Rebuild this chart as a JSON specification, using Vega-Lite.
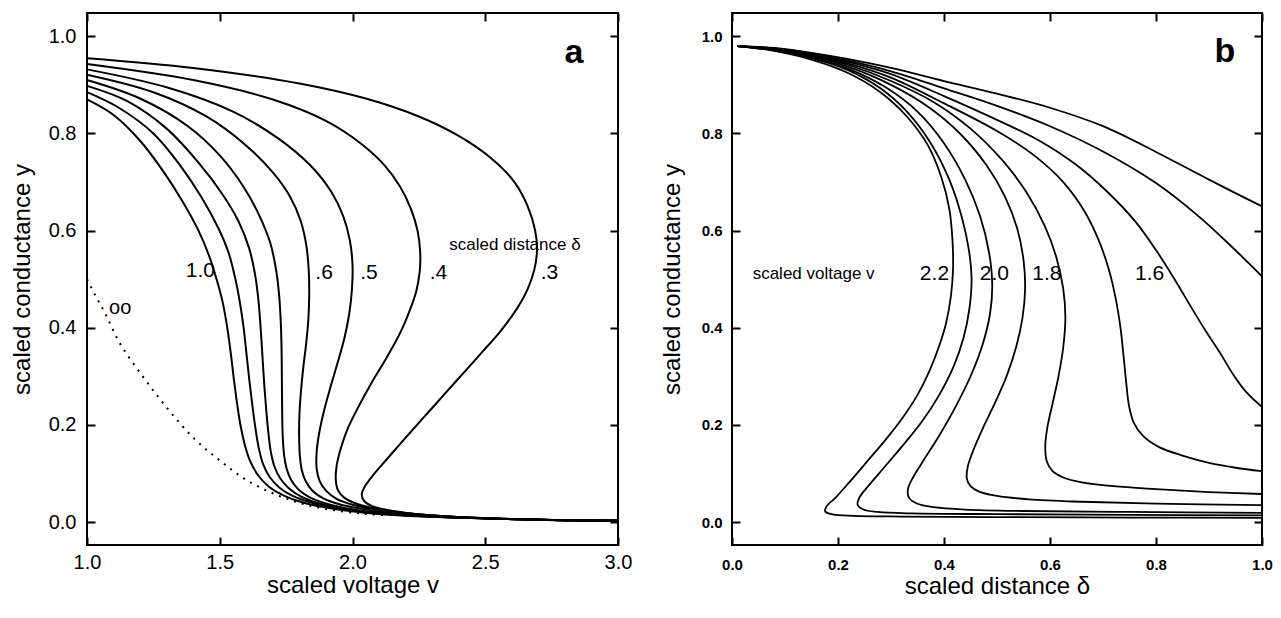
{
"$schema":"https://vega.github.io/schema/vega-lite/v6.json",
"background":"white",
"padding":{"left":9,"top":11,"right":5,"bottom":5},
"spacing":114,
"bounds":"flush",
"config":{
 "view":{"stroke":"black","strokeWidth":2},
 "font":"Liberation Sans",
 "axis":{"grid":false,"domain":false,"tickSize":-8,"tickWidth":2,"tickColor":"black","labelColor":"black","titleColor":"black","labelFont":"Liberation Sans","titleFont":"Liberation Sans","titleFontWeight":"normal","labelFlush":false,"labelOverlap":false}
},
"datasets":{
"a":[
{"c":"1.0","i":0,"x":1.0,"y":0.87},{"c":"1.0","i":1,"x":1.1,"y":0.838},{"c":"1.0","i":2,"x":1.2,"y":0.785},{"c":"1.0","i":3,"x":1.29,"y":0.72},{"c":"1.0","i":4,"x":1.36,"y":0.66},{"c":"1.0","i":5,"x":1.42,"y":0.6},{"c":"1.0","i":6,"x":1.46,"y":0.548},{"c":"1.0","i":7,"x":1.488,"y":0.5},{"c":"1.0","i":8,"x":1.51,"y":0.455},{"c":"1.0","i":9,"x":1.527,"y":0.405},{"c":"1.0","i":10,"x":1.541,"y":0.35},{"c":"1.0","i":11,"x":1.553,"y":0.295},{"c":"1.0","i":12,"x":1.565,"y":0.245},{"c":"1.0","i":13,"x":1.578,"y":0.2},{"c":"1.0","i":14,"x":1.594,"y":0.16},{"c":"1.0","i":15,"x":1.615,"y":0.125},{"c":"1.0","i":16,"x":1.645,"y":0.096},{"c":"1.0","i":17,"x":1.685,"y":0.073},{"c":"1.0","i":18,"x":1.74,"y":0.055},{"c":"1.0","i":19,"x":1.81,"y":0.041},{"c":"1.0","i":20,"x":1.89,"y":0.031},{"c":"1.0","i":21,"x":1.99,"y":0.023},{"c":"1.0","i":22,"x":2.12,"y":0.016},{"c":"1.0","i":23,"x":2.3,"y":0.011},{"c":"1.0","i":24,"x":2.55,"y":0.007},{"c":"1.0","i":25,"x":2.8,"y":0.004},{"c":"1.0","i":26,"x":3.0,"y":0.003},
{"c":"0.9","i":0,"x":1.0,"y":0.885},{"c":"0.9","i":1,"x":1.12,"y":0.853},{"c":"0.9","i":2,"x":1.25,"y":0.8},{"c":"0.9","i":3,"x":1.35,"y":0.735},{"c":"0.9","i":4,"x":1.43,"y":0.67},{"c":"0.9","i":5,"x":1.495,"y":0.605},{"c":"0.9","i":6,"x":1.533,"y":0.555},{"c":"0.9","i":7,"x":1.557,"y":0.505},{"c":"0.9","i":8,"x":1.575,"y":0.455},{"c":"0.9","i":9,"x":1.59,"y":0.4},{"c":"0.9","i":10,"x":1.601,"y":0.345},{"c":"0.9","i":11,"x":1.612,"y":0.29},{"c":"0.9","i":12,"x":1.623,"y":0.24},{"c":"0.9","i":13,"x":1.634,"y":0.195},{"c":"0.9","i":14,"x":1.646,"y":0.155},{"c":"0.9","i":15,"x":1.663,"y":0.12},{"c":"0.9","i":16,"x":1.688,"y":0.093},{"c":"0.9","i":17,"x":1.725,"y":0.071},{"c":"0.9","i":18,"x":1.775,"y":0.054},{"c":"0.9","i":19,"x":1.84,"y":0.041},{"c":"0.9","i":20,"x":1.92,"y":0.031},{"c":"0.9","i":21,"x":2.02,"y":0.023},{"c":"0.9","i":22,"x":2.15,"y":0.016},{"c":"0.9","i":23,"x":2.32,"y":0.011},{"c":"0.9","i":24,"x":2.55,"y":0.007},{"c":"0.9","i":25,"x":2.8,"y":0.004},{"c":"0.9","i":26,"x":3.0,"y":0.003},
{"c":"0.8","i":0,"x":1.0,"y":0.898},{"c":"0.8","i":1,"x":1.15,"y":0.867},{"c":"0.8","i":2,"x":1.3,"y":0.81},{"c":"0.8","i":3,"x":1.42,"y":0.74},{"c":"0.8","i":4,"x":1.51,"y":0.675},{"c":"0.8","i":5,"x":1.57,"y":0.62},{"c":"0.8","i":6,"x":1.61,"y":0.565},{"c":"0.8","i":7,"x":1.633,"y":0.51},{"c":"0.8","i":8,"x":1.646,"y":0.455},{"c":"0.8","i":9,"x":1.654,"y":0.4},{"c":"0.8","i":10,"x":1.661,"y":0.34},{"c":"0.8","i":11,"x":1.668,"y":0.28},{"c":"0.8","i":12,"x":1.676,"y":0.225},{"c":"0.8","i":13,"x":1.684,"y":0.18},{"c":"0.8","i":14,"x":1.693,"y":0.143},{"c":"0.8","i":15,"x":1.707,"y":0.113},{"c":"0.8","i":16,"x":1.728,"y":0.09},{"c":"0.8","i":17,"x":1.76,"y":0.07},{"c":"0.8","i":18,"x":1.805,"y":0.053},{"c":"0.8","i":19,"x":1.865,"y":0.04},{"c":"0.8","i":20,"x":1.94,"y":0.03},{"c":"0.8","i":21,"x":2.04,"y":0.022},{"c":"0.8","i":22,"x":2.17,"y":0.016},{"c":"0.8","i":23,"x":2.32,"y":0.011},{"c":"0.8","i":24,"x":2.55,"y":0.007},{"c":"0.8","i":25,"x":2.8,"y":0.004},{"c":"0.8","i":26,"x":3.0,"y":0.003},
{"c":"0.7","i":0,"x":1.0,"y":0.91},{"c":"0.7","i":1,"x":1.2,"y":0.872},{"c":"0.7","i":2,"x":1.38,"y":0.815},{"c":"0.7","i":3,"x":1.5,"y":0.755},{"c":"0.7","i":4,"x":1.59,"y":0.69},{"c":"0.7","i":5,"x":1.65,"y":0.63},{"c":"0.7","i":6,"x":1.69,"y":0.575},{"c":"0.7","i":7,"x":1.712,"y":0.52},{"c":"0.7","i":8,"x":1.724,"y":0.465},{"c":"0.7","i":9,"x":1.73,"y":0.41},{"c":"0.7","i":10,"x":1.733,"y":0.35},{"c":"0.7","i":11,"x":1.734,"y":0.29},{"c":"0.7","i":12,"x":1.735,"y":0.23},{"c":"0.7","i":13,"x":1.737,"y":0.18},{"c":"0.7","i":14,"x":1.742,"y":0.14},{"c":"0.7","i":15,"x":1.752,"y":0.11},{"c":"0.7","i":16,"x":1.768,"y":0.088},{"c":"0.7","i":17,"x":1.795,"y":0.068},{"c":"0.7","i":18,"x":1.835,"y":0.052},{"c":"0.7","i":19,"x":1.89,"y":0.04},{"c":"0.7","i":20,"x":1.96,"y":0.03},{"c":"0.7","i":21,"x":2.05,"y":0.022},{"c":"0.7","i":22,"x":2.17,"y":0.016},{"c":"0.7","i":23,"x":2.32,"y":0.011},{"c":"0.7","i":24,"x":2.55,"y":0.007},{"c":"0.7","i":25,"x":2.8,"y":0.004},{"c":"0.7","i":26,"x":3.0,"y":0.003},
{"c":"0.6","i":0,"x":1.0,"y":0.921},{"c":"0.6","i":1,"x":1.25,"y":0.885},{"c":"0.6","i":2,"x":1.45,"y":0.835},{"c":"0.6","i":3,"x":1.6,"y":0.775},{"c":"0.6","i":4,"x":1.7,"y":0.72},{"c":"0.6","i":5,"x":1.765,"y":0.67},{"c":"0.6","i":6,"x":1.805,"y":0.62},{"c":"0.6","i":7,"x":1.826,"y":0.57},{"c":"0.6","i":8,"x":1.835,"y":0.52},{"c":"0.6","i":9,"x":1.837,"y":0.47},{"c":"0.6","i":10,"x":1.834,"y":0.42},{"c":"0.6","i":11,"x":1.826,"y":0.37},{"c":"0.6","i":12,"x":1.815,"y":0.32},{"c":"0.6","i":13,"x":1.806,"y":0.27},{"c":"0.6","i":14,"x":1.8,"y":0.22},{"c":"0.6","i":15,"x":1.799,"y":0.175},{"c":"0.6","i":16,"x":1.802,"y":0.135},{"c":"0.6","i":17,"x":1.81,"y":0.105},{"c":"0.6","i":18,"x":1.825,"y":0.083},{"c":"0.6","i":19,"x":1.85,"y":0.064},{"c":"0.6","i":20,"x":1.89,"y":0.049},{"c":"0.6","i":21,"x":1.95,"y":0.037},{"c":"0.6","i":22,"x":2.03,"y":0.028},{"c":"0.6","i":23,"x":2.13,"y":0.02},{"c":"0.6","i":24,"x":2.3,"y":0.012},{"c":"0.6","i":25,"x":2.55,"y":0.007},{"c":"0.6","i":26,"x":2.8,"y":0.004},{"c":"0.6","i":27,"x":3.0,"y":0.003},
{"c":"0.5","i":0,"x":1.0,"y":0.932},{"c":"0.5","i":1,"x":1.3,"y":0.895},{"c":"0.5","i":2,"x":1.55,"y":0.845},{"c":"0.5","i":3,"x":1.72,"y":0.79},{"c":"0.5","i":4,"x":1.84,"y":0.735},{"c":"0.5","i":5,"x":1.92,"y":0.68},{"c":"0.5","i":6,"x":1.965,"y":0.63},{"c":"0.5","i":7,"x":1.99,"y":0.58},{"c":"0.5","i":8,"x":2.0,"y":0.53},{"c":"0.5","i":9,"x":1.998,"y":0.48},{"c":"0.5","i":10,"x":1.988,"y":0.43},{"c":"0.5","i":11,"x":1.97,"y":0.38},{"c":"0.5","i":12,"x":1.945,"y":0.33},{"c":"0.5","i":13,"x":1.918,"y":0.28},{"c":"0.5","i":14,"x":1.893,"y":0.23},{"c":"0.5","i":15,"x":1.875,"y":0.185},{"c":"0.5","i":16,"x":1.865,"y":0.145},{"c":"0.5","i":17,"x":1.865,"y":0.11},{"c":"0.5","i":18,"x":1.876,"y":0.085},{"c":"0.5","i":19,"x":1.9,"y":0.065},{"c":"0.5","i":20,"x":1.94,"y":0.048},{"c":"0.5","i":21,"x":2.0,"y":0.036},{"c":"0.5","i":22,"x":2.08,"y":0.027},{"c":"0.5","i":23,"x":2.18,"y":0.02},{"c":"0.5","i":24,"x":2.32,"y":0.013},{"c":"0.5","i":25,"x":2.55,"y":0.007},{"c":"0.5","i":26,"x":2.8,"y":0.004},{"c":"0.5","i":27,"x":3.0,"y":0.003},
{"c":"0.4","i":0,"x":1.0,"y":0.943},{"c":"0.4","i":1,"x":1.4,"y":0.91},{"c":"0.4","i":2,"x":1.7,"y":0.87},{"c":"0.4","i":3,"x":1.9,"y":0.826},{"c":"0.4","i":4,"x":2.03,"y":0.78},{"c":"0.4","i":5,"x":2.12,"y":0.735},{"c":"0.4","i":6,"x":2.18,"y":0.69},{"c":"0.4","i":7,"x":2.22,"y":0.645},{"c":"0.4","i":8,"x":2.245,"y":0.6},{"c":"0.4","i":9,"x":2.255,"y":0.555},{"c":"0.4","i":10,"x":2.253,"y":0.515},{"c":"0.4","i":11,"x":2.24,"y":0.475},{"c":"0.4","i":12,"x":2.215,"y":0.435},{"c":"0.4","i":13,"x":2.18,"y":0.39},{"c":"0.4","i":14,"x":2.13,"y":0.34},{"c":"0.4","i":15,"x":2.07,"y":0.285},{"c":"0.4","i":16,"x":2.02,"y":0.235},{"c":"0.4","i":17,"x":1.98,"y":0.19},{"c":"0.4","i":18,"x":1.955,"y":0.15},{"c":"0.4","i":19,"x":1.94,"y":0.115},{"c":"0.4","i":20,"x":1.937,"y":0.088},{"c":"0.4","i":21,"x":1.945,"y":0.066},{"c":"0.4","i":22,"x":1.97,"y":0.05},{"c":"0.4","i":23,"x":2.02,"y":0.037},{"c":"0.4","i":24,"x":2.09,"y":0.028},{"c":"0.4","i":25,"x":2.18,"y":0.02},{"c":"0.4","i":26,"x":2.32,"y":0.013},{"c":"0.4","i":27,"x":2.55,"y":0.007},{"c":"0.4","i":28,"x":2.8,"y":0.004},{"c":"0.4","i":29,"x":3.0,"y":0.003},
{"c":"0.3","i":0,"x":1.0,"y":0.955},{"c":"0.3","i":1,"x":1.4,"y":0.935},{"c":"0.3","i":2,"x":1.8,"y":0.903},{"c":"0.3","i":3,"x":2.05,"y":0.872},{"c":"0.3","i":4,"x":2.25,"y":0.835},{"c":"0.3","i":5,"x":2.4,"y":0.795},{"c":"0.3","i":6,"x":2.52,"y":0.75},{"c":"0.3","i":7,"x":2.61,"y":0.7},{"c":"0.3","i":8,"x":2.66,"y":0.65},{"c":"0.3","i":9,"x":2.688,"y":0.6},{"c":"0.3","i":10,"x":2.695,"y":0.56},{"c":"0.3","i":11,"x":2.685,"y":0.52},{"c":"0.3","i":12,"x":2.66,"y":0.48},{"c":"0.3","i":13,"x":2.62,"y":0.44},{"c":"0.3","i":14,"x":2.56,"y":0.395},{"c":"0.3","i":15,"x":2.48,"y":0.345},{"c":"0.3","i":16,"x":2.39,"y":0.29},{"c":"0.3","i":17,"x":2.3,"y":0.235},{"c":"0.3","i":18,"x":2.21,"y":0.18},{"c":"0.3","i":19,"x":2.13,"y":0.13},{"c":"0.3","i":20,"x":2.075,"y":0.095},{"c":"0.3","i":21,"x":2.045,"y":0.072},{"c":"0.3","i":22,"x":2.035,"y":0.058},{"c":"0.3","i":23,"x":2.042,"y":0.045},{"c":"0.3","i":24,"x":2.07,"y":0.034},{"c":"0.3","i":25,"x":2.13,"y":0.025},{"c":"0.3","i":26,"x":2.22,"y":0.018},{"c":"0.3","i":27,"x":2.35,"y":0.012},{"c":"0.3","i":28,"x":2.55,"y":0.007},{"c":"0.3","i":29,"x":2.8,"y":0.004},{"c":"0.3","i":30,"x":3.0,"y":0.003}
],
"ainf":[
{"i":0,"x":1.0,"y":0.5},{"i":1,"x":1.03,"y":0.468},{"i":2,"x":1.068,"y":0.43},{"i":3,"x":1.124,"y":0.368},{"i":4,"x":1.21,"y":0.3},{"i":5,"x":1.3,"y":0.236},{"i":6,"x":1.4,"y":0.174},{"i":7,"x":1.5,"y":0.127},{"i":8,"x":1.6,"y":0.087},{"i":9,"x":1.715,"y":0.056},{"i":10,"x":1.83,"y":0.035},{"i":11,"x":1.95,"y":0.023},{"i":12,"x":2.05,"y":0.017},{"i":13,"x":2.13,"y":0.014}
],
"b":[
{"c":"1.4","i":0,"x":0.01,"y":0.98},{"c":"1.4","i":1,"x":0.08,"y":0.976},{"c":"1.4","i":2,"x":0.15,"y":0.966},{"c":"1.4","i":3,"x":0.22,"y":0.953},{"c":"1.4","i":4,"x":0.3,"y":0.935},{"c":"1.4","i":5,"x":0.4,"y":0.908},{"c":"1.4","i":6,"x":0.5,"y":0.882},{"c":"1.4","i":7,"x":0.6,"y":0.853},{"c":"1.4","i":8,"x":0.7,"y":0.815},{"c":"1.4","i":9,"x":0.8,"y":0.762},{"c":"1.4","i":10,"x":0.9,"y":0.705},{"c":"1.4","i":11,"x":1.0,"y":0.65},
{"c":"1.5","i":0,"x":0.01,"y":0.98},{"c":"1.5","i":1,"x":0.08,"y":0.975},{"c":"1.5","i":2,"x":0.15,"y":0.965},{"c":"1.5","i":3,"x":0.22,"y":0.95},{"c":"1.5","i":4,"x":0.3,"y":0.928},{"c":"1.5","i":5,"x":0.4,"y":0.893},{"c":"1.5","i":6,"x":0.5,"y":0.857},{"c":"1.5","i":7,"x":0.6,"y":0.815},{"c":"1.5","i":8,"x":0.7,"y":0.763},{"c":"1.5","i":9,"x":0.8,"y":0.698},{"c":"1.5","i":10,"x":0.88,"y":0.63},{"c":"1.5","i":11,"x":0.94,"y":0.57},{"c":"1.5","i":12,"x":1.0,"y":0.506},
{"c":"1.6","i":0,"x":0.01,"y":0.98},{"c":"1.6","i":1,"x":0.08,"y":0.975},{"c":"1.6","i":2,"x":0.15,"y":0.964},{"c":"1.6","i":3,"x":0.22,"y":0.947},{"c":"1.6","i":4,"x":0.3,"y":0.922},{"c":"1.6","i":5,"x":0.4,"y":0.877},{"c":"1.6","i":6,"x":0.5,"y":0.828},{"c":"1.6","i":7,"x":0.58,"y":0.785},{"c":"1.6","i":8,"x":0.65,"y":0.735},{"c":"1.6","i":9,"x":0.71,"y":0.678},{"c":"1.6","i":10,"x":0.76,"y":0.62},{"c":"1.6","i":11,"x":0.8,"y":0.56},{"c":"1.6","i":12,"x":0.835,"y":0.5},{"c":"1.6","i":13,"x":0.865,"y":0.445},{"c":"1.6","i":14,"x":0.893,"y":0.395},{"c":"1.6","i":15,"x":0.92,"y":0.35},{"c":"1.6","i":16,"x":0.945,"y":0.305},{"c":"1.6","i":17,"x":0.97,"y":0.268},{"c":"1.6","i":18,"x":1.0,"y":0.237},
{"c":"1.7","i":0,"x":0.01,"y":0.98},{"c":"1.7","i":1,"x":0.08,"y":0.974},{"c":"1.7","i":2,"x":0.15,"y":0.962},{"c":"1.7","i":3,"x":0.22,"y":0.944},{"c":"1.7","i":4,"x":0.3,"y":0.915},{"c":"1.7","i":5,"x":0.4,"y":0.862},{"c":"1.7","i":6,"x":0.5,"y":0.805},{"c":"1.7","i":7,"x":0.57,"y":0.755},{"c":"1.7","i":8,"x":0.625,"y":0.7},{"c":"1.7","i":9,"x":0.665,"y":0.64},{"c":"1.7","i":10,"x":0.692,"y":0.58},{"c":"1.7","i":11,"x":0.711,"y":0.52},{"c":"1.7","i":12,"x":0.724,"y":0.46},{"c":"1.7","i":13,"x":0.733,"y":0.4},{"c":"1.7","i":14,"x":0.739,"y":0.34},{"c":"1.7","i":15,"x":0.744,"y":0.285},{"c":"1.7","i":16,"x":0.749,"y":0.24},{"c":"1.7","i":17,"x":0.758,"y":0.205},{"c":"1.7","i":18,"x":0.775,"y":0.178},{"c":"1.7","i":19,"x":0.805,"y":0.155},{"c":"1.7","i":20,"x":0.85,"y":0.137},{"c":"1.7","i":21,"x":0.9,"y":0.122},{"c":"1.7","i":22,"x":0.95,"y":0.112},{"c":"1.7","i":23,"x":1.0,"y":0.105},
{"c":"1.8","i":0,"x":0.01,"y":0.98},{"c":"1.8","i":1,"x":0.08,"y":0.974},{"c":"1.8","i":2,"x":0.15,"y":0.961},{"c":"1.8","i":3,"x":0.22,"y":0.941},{"c":"1.8","i":4,"x":0.3,"y":0.908},{"c":"1.8","i":5,"x":0.38,"y":0.865},{"c":"1.8","i":6,"x":0.45,"y":0.81},{"c":"1.8","i":7,"x":0.51,"y":0.745},{"c":"1.8","i":8,"x":0.555,"y":0.68},{"c":"1.8","i":9,"x":0.59,"y":0.61},{"c":"1.8","i":10,"x":0.612,"y":0.545},{"c":"1.8","i":11,"x":0.625,"y":0.48},{"c":"1.8","i":12,"x":0.629,"y":0.42},{"c":"1.8","i":13,"x":0.625,"y":0.36},{"c":"1.8","i":14,"x":0.616,"y":0.3},{"c":"1.8","i":15,"x":0.605,"y":0.245},{"c":"1.8","i":16,"x":0.595,"y":0.195},{"c":"1.8","i":17,"x":0.591,"y":0.155},{"c":"1.8","i":18,"x":0.594,"y":0.125},{"c":"1.8","i":19,"x":0.605,"y":0.105},{"c":"1.8","i":20,"x":0.625,"y":0.092},{"c":"1.8","i":21,"x":0.66,"y":0.082},{"c":"1.8","i":22,"x":0.72,"y":0.074},{"c":"1.8","i":23,"x":0.8,"y":0.068},{"c":"1.8","i":24,"x":0.9,"y":0.062},{"c":"1.8","i":25,"x":1.0,"y":0.058},
{"c":"1.9","i":0,"x":0.01,"y":0.98},{"c":"1.9","i":1,"x":0.08,"y":0.973},{"c":"1.9","i":2,"x":0.15,"y":0.959},{"c":"1.9","i":3,"x":0.22,"y":0.937},{"c":"1.9","i":4,"x":0.3,"y":0.9},{"c":"1.9","i":5,"x":0.37,"y":0.855},{"c":"1.9","i":6,"x":0.43,"y":0.8},{"c":"1.9","i":7,"x":0.48,"y":0.735},{"c":"1.9","i":8,"x":0.515,"y":0.67},{"c":"1.9","i":9,"x":0.538,"y":0.605},{"c":"1.9","i":10,"x":0.55,"y":0.54},{"c":"1.9","i":11,"x":0.553,"y":0.48},{"c":"1.9","i":12,"x":0.548,"y":0.42},{"c":"1.9","i":13,"x":0.536,"y":0.36},{"c":"1.9","i":14,"x":0.518,"y":0.3},{"c":"1.9","i":15,"x":0.496,"y":0.245},{"c":"1.9","i":16,"x":0.474,"y":0.195},{"c":"1.9","i":17,"x":0.456,"y":0.15},{"c":"1.9","i":18,"x":0.445,"y":0.115},{"c":"1.9","i":19,"x":0.443,"y":0.09},{"c":"1.9","i":20,"x":0.45,"y":0.074},{"c":"1.9","i":21,"x":0.466,"y":0.063},{"c":"1.9","i":22,"x":0.5,"y":0.054},{"c":"1.9","i":23,"x":0.56,"y":0.047},{"c":"1.9","i":24,"x":0.66,"y":0.042},{"c":"1.9","i":25,"x":0.8,"y":0.038},{"c":"1.9","i":26,"x":1.0,"y":0.035},
{"c":"2.0","i":0,"x":0.01,"y":0.98},{"c":"2.0","i":1,"x":0.08,"y":0.972},{"c":"2.0","i":2,"x":0.15,"y":0.957},{"c":"2.0","i":3,"x":0.22,"y":0.933},{"c":"2.0","i":4,"x":0.29,"y":0.895},{"c":"2.0","i":5,"x":0.35,"y":0.845},{"c":"2.0","i":6,"x":0.4,"y":0.78},{"c":"2.0","i":7,"x":0.44,"y":0.705},{"c":"2.0","i":8,"x":0.468,"y":0.63},{"c":"2.0","i":9,"x":0.485,"y":0.555},{"c":"2.0","i":10,"x":0.491,"y":0.49},{"c":"2.0","i":11,"x":0.487,"y":0.43},{"c":"2.0","i":12,"x":0.474,"y":0.37},{"c":"2.0","i":13,"x":0.452,"y":0.305},{"c":"2.0","i":14,"x":0.423,"y":0.24},{"c":"2.0","i":15,"x":0.392,"y":0.18},{"c":"2.0","i":16,"x":0.363,"y":0.13},{"c":"2.0","i":17,"x":0.342,"y":0.093},{"c":"2.0","i":18,"x":0.332,"y":0.068},{"c":"2.0","i":19,"x":0.334,"y":0.05},{"c":"2.0","i":20,"x":0.35,"y":0.038},{"c":"2.0","i":21,"x":0.38,"y":0.031},{"c":"2.0","i":22,"x":0.44,"y":0.026},{"c":"2.0","i":23,"x":0.55,"y":0.023},{"c":"2.0","i":24,"x":0.75,"y":0.021},{"c":"2.0","i":25,"x":1.0,"y":0.019},
{"c":"2.1","i":0,"x":0.01,"y":0.98},{"c":"2.1","i":1,"x":0.08,"y":0.971},{"c":"2.1","i":2,"x":0.15,"y":0.955},{"c":"2.1","i":3,"x":0.22,"y":0.93},{"c":"2.1","i":4,"x":0.28,"y":0.893},{"c":"2.1","i":5,"x":0.33,"y":0.845},{"c":"2.1","i":6,"x":0.375,"y":0.78},{"c":"2.1","i":7,"x":0.41,"y":0.705},{"c":"2.1","i":8,"x":0.433,"y":0.63},{"c":"2.1","i":9,"x":0.447,"y":0.56},{"c":"2.1","i":10,"x":0.452,"y":0.5},{"c":"2.1","i":11,"x":0.448,"y":0.44},{"c":"2.1","i":12,"x":0.437,"y":0.38},{"c":"2.1","i":13,"x":0.418,"y":0.32},{"c":"2.1","i":14,"x":0.39,"y":0.26},{"c":"2.1","i":15,"x":0.357,"y":0.205},{"c":"2.1","i":16,"x":0.32,"y":0.155},{"c":"2.1","i":17,"x":0.285,"y":0.11},{"c":"2.1","i":18,"x":0.256,"y":0.073},{"c":"2.1","i":19,"x":0.24,"y":0.05},{"c":"2.1","i":20,"x":0.237,"y":0.036},{"c":"2.1","i":21,"x":0.248,"y":0.026},{"c":"2.1","i":22,"x":0.275,"y":0.021},{"c":"2.1","i":23,"x":0.34,"y":0.018},{"c":"2.1","i":24,"x":0.5,"y":0.0165},{"c":"2.1","i":25,"x":0.75,"y":0.015},{"c":"2.1","i":26,"x":1.0,"y":0.014},
{"c":"2.2","i":0,"x":0.01,"y":0.98},{"c":"2.2","i":1,"x":0.08,"y":0.97},{"c":"2.2","i":2,"x":0.15,"y":0.952},{"c":"2.2","i":3,"x":0.22,"y":0.924},{"c":"2.2","i":4,"x":0.28,"y":0.885},{"c":"2.2","i":5,"x":0.33,"y":0.835},{"c":"2.2","i":6,"x":0.37,"y":0.775},{"c":"2.2","i":7,"x":0.395,"y":0.71},{"c":"2.2","i":8,"x":0.41,"y":0.645},{"c":"2.2","i":9,"x":0.416,"y":0.58},{"c":"2.2","i":10,"x":0.417,"y":0.52},{"c":"2.2","i":11,"x":0.413,"y":0.465},{"c":"2.2","i":12,"x":0.404,"y":0.41},{"c":"2.2","i":13,"x":0.39,"y":0.36},{"c":"2.2","i":14,"x":0.372,"y":0.31},{"c":"2.2","i":15,"x":0.35,"y":0.262},{"c":"2.2","i":16,"x":0.322,"y":0.215},{"c":"2.2","i":17,"x":0.29,"y":0.17},{"c":"2.2","i":18,"x":0.255,"y":0.125},{"c":"2.2","i":19,"x":0.222,"y":0.083},{"c":"2.2","i":20,"x":0.196,"y":0.051},{"c":"2.2","i":21,"x":0.178,"y":0.032},{"c":"2.2","i":22,"x":0.176,"y":0.022},{"c":"2.2","i":23,"x":0.19,"y":0.016},{"c":"2.2","i":24,"x":0.23,"y":0.013},{"c":"2.2","i":25,"x":0.32,"y":0.0115},{"c":"2.2","i":26,"x":0.5,"y":0.0105},{"c":"2.2","i":27,"x":0.75,"y":0.0095},{"c":"2.2","i":28,"x":1.0,"y":0.009}
]
},
"hconcat":[
{
 "width":531,"height":532,
 "resolve":{"axis":{"x":"independent","y":"independent"}},
 "layer":[
  {"data":{"name":"ainf"},
   "mark":{"type":"line","color":"black","strokeWidth":2,"strokeDash":[2,6],"interpolate":"catmull-rom"},
   "encoding":{
    "x":{"field":"x","type":"quantitative","scale":{"domain":[1,3],"nice":false,"zero":false},"axis":null},
    "y":{"field":"y","type":"quantitative","scale":{"domain":[-0.047,1.048],"nice":false,"zero":false},"axis":null},
    "order":{"field":"i","type":"quantitative"}}},
  {"data":{"name":"a"},
   "mark":{"type":"line","color":"black","strokeWidth":2,"interpolate":"catmull-rom"},
   "encoding":{
    "x":{"field":"x","type":"quantitative","scale":{"domain":[1,3],"nice":false,"zero":false},
      "axis":{"orient":"bottom","values":[1,1.5,2,2.5,3],"format":".1f","title":"scaled voltage v","labelFontSize":20,"titleFontSize":24,"labelPadding":15.5,"minExtent":25,"maxExtent":25,"titlePadding":3}},
    "y":{"field":"y","type":"quantitative","scale":{"domain":[-0.047,1.048],"nice":false,"zero":false},
      "axis":{"orient":"left","values":[0,0.2,0.4,0.6,0.8,1],"format":".1f","title":"scaled conductance y","labelFontSize":20,"titleFontSize":24,"labelPadding":19,"minExtent":39,"maxExtent":39,"titlePadding":14}},
    "detail":{"field":"c","type":"nominal"},
    "order":{"field":"i","type":"quantitative"}}},
  {"data":{"values":[{"t":"1.0","x":1.427,"y":0.517},{"t":".6","x":1.893,"y":0.512},{"t":".5","x":2.062,"y":0.512},{"t":".4","x":2.324,"y":0.512},{"t":".3","x":2.742,"y":0.512}]},
   "mark":{"type":"text","fontSize":21,"font":"Liberation Sans","color":"black","align":"center","baseline":"middle"},
   "encoding":{
    "x":{"field":"x","type":"quantitative","scale":{"domain":[1,3],"nice":false,"zero":false},"axis":{"orient":"top","values":[1,1.5,2,2.5,3],"labels":false,"title":null}},
    "y":{"field":"y","type":"quantitative","scale":{"domain":[-0.047,1.048],"nice":false,"zero":false},"axis":{"orient":"right","values":[0,0.2,0.4,0.6,0.8,1],"labels":false,"title":null}},
    "text":{"field":"t","type":"nominal"}}},
  {"data":{"values":[{"t":"scaled distance δ","x":2.612,"y":0.57}]},
   "mark":{"type":"text","fontSize":17,"font":"Liberation Sans","color":"black","align":"center","baseline":"middle"},
   "encoding":{
    "x":{"field":"x","type":"quantitative","scale":{"domain":[1,3],"nice":false,"zero":false},"axis":null},
    "y":{"field":"y","type":"quantitative","scale":{"domain":[-0.047,1.048],"nice":false,"zero":false},"axis":null},
    "text":{"field":"t","type":"nominal"}}},
  {"data":{"values":[{"t":"oo","x":1.125,"y":0.44}]},
   "mark":{"type":"text","fontSize":20,"font":"Liberation Sans","color":"black","align":"center","baseline":"middle"},
   "encoding":{
    "x":{"field":"x","type":"quantitative","scale":{"domain":[1,3],"nice":false,"zero":false},"axis":null},
    "y":{"field":"y","type":"quantitative","scale":{"domain":[-0.047,1.048],"nice":false,"zero":false},"axis":null},
    "text":{"field":"t","type":"nominal"}}},
  {"data":{"values":[{"t":"a","x":2.834,"y":0.965}]},
   "mark":{"type":"text","fontSize":34,"fontWeight":"bold","font":"Liberation Sans","color":"black","align":"center","baseline":"middle"},
   "encoding":{
    "x":{"field":"x","type":"quantitative","scale":{"domain":[1,3],"nice":false,"zero":false},"axis":null},
    "y":{"field":"y","type":"quantitative","scale":{"domain":[-0.047,1.048],"nice":false,"zero":false},"axis":null},
    "text":{"field":"t","type":"nominal"}}}
 ]
},
{
 "width":530,"height":532,
 "resolve":{"axis":{"x":"independent","y":"independent"}},
 "layer":[
  {"data":{"name":"b"},
   "mark":{"type":"line","color":"black","strokeWidth":1.8,"interpolate":"catmull-rom"},
   "encoding":{
    "x":{"field":"x","type":"quantitative","scale":{"domain":[0,1],"nice":false,"zero":false},
      "axis":{"orient":"bottom","values":[0,0.2,0.4,0.6,0.8,1],"format":".1f","title":"scaled distance δ","labelFontSize":15,"labelFontWeight":"bold","titleFontSize":24,"labelPadding":20,"minExtent":26,"maxExtent":26,"titlePadding":3}},
    "y":{"field":"y","type":"quantitative","scale":{"domain":[-0.047,1.048],"nice":false,"zero":false},
      "axis":{"orient":"left","values":[0,0.2,0.4,0.6,0.8,1],"format":".1f","title":"scaled conductance y","labelFontSize":15,"labelFontWeight":"bold","titleFontSize":24,"labelPadding":18,"minExtent":32,"maxExtent":32,"titlePadding":16}},
    "detail":{"field":"c","type":"nominal"},
    "order":{"field":"i","type":"quantitative"}}},
  {"data":{"values":[{"t":"2.2","x":0.382,"y":0.51},{"t":"2.0","x":0.495,"y":0.51},{"t":"1.8","x":0.594,"y":0.51},{"t":"1.6","x":0.788,"y":0.51}]},
   "mark":{"type":"text","fontSize":21,"font":"Liberation Sans","color":"black","align":"center","baseline":"middle"},
   "encoding":{
    "x":{"field":"x","type":"quantitative","scale":{"domain":[0,1],"nice":false,"zero":false},"axis":{"orient":"top","values":[0,0.2,0.4,0.6,0.8,1],"labels":false,"title":null}},
    "y":{"field":"y","type":"quantitative","scale":{"domain":[-0.047,1.048],"nice":false,"zero":false},"axis":{"orient":"right","values":[0,0.2,0.4,0.6,0.8,1],"labels":false,"title":null}},
    "text":{"field":"t","type":"nominal"}}},
  {"data":{"values":[{"t":"scaled voltage v","x":0.154,"y":0.51}]},
   "mark":{"type":"text","fontSize":17,"font":"Liberation Sans","color":"black","align":"center","baseline":"middle"},
   "encoding":{
    "x":{"field":"x","type":"quantitative","scale":{"domain":[0,1],"nice":false,"zero":false},"axis":null},
    "y":{"field":"y","type":"quantitative","scale":{"domain":[-0.047,1.048],"nice":false,"zero":false},"axis":null},
    "text":{"field":"t","type":"nominal"}}},
  {"data":{"values":[{"t":"b","x":0.93,"y":0.968}]},
   "mark":{"type":"text","fontSize":34,"fontWeight":"bold","font":"Liberation Sans","color":"black","align":"center","baseline":"middle"},
   "encoding":{
    "x":{"field":"x","type":"quantitative","scale":{"domain":[0,1],"nice":false,"zero":false},"axis":null},
    "y":{"field":"y","type":"quantitative","scale":{"domain":[-0.047,1.048],"nice":false,"zero":false},"axis":null},
    "text":{"field":"t","type":"nominal"}}}
 ]
}
]
}
